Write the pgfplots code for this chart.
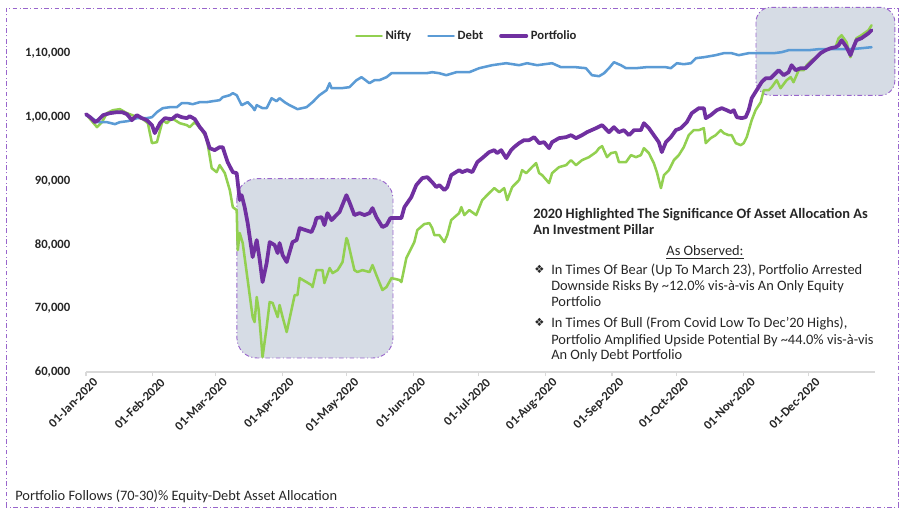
\documentclass[border=0pt]{standalone}
\usepackage{fontspec}
\setmainfont{Carlito}
\newfontfamily\symfont{DejaVu Sans}
\usepackage{pgfplots}
\pgfplotsset{compat=1.18}

\definecolor{nifty}{HTML}{92D050}
\definecolor{debt}{HTML}{5B9BD5}
\definecolor{port}{HTML}{7030A0}
\definecolor{boxfill}{HTML}{D6DCE5}
\definecolor{framec}{HTML}{9966CC}
\definecolor{txt}{HTML}{262626}
\definecolor{axisgray}{HTML}{D9D9D9}

\tikzset{dd/.style={dash pattern=on 3.5pt off 1.8pt on 0.8pt off 1.8pt}}
\newcommand{\lbl}{\fontsize{9.5}{11}\selectfont\bfseries}
\newcommand{\txtf}{\fontsize{10.8}{12}\selectfont}

\begin{document}
\begin{tikzpicture}
\begin{scope}[x=0.75pt,y=0.75pt]
  \useasboundingbox (0,0) rectangle (909,514);
  \draw[framec, line width=0.7pt, dd] (6,7) rectangle (898,506);
\end{scope}

\begin{axis}[
    at={(64.5pt,106.5pt)}, anchor=south west,
    scale only axis,
    width=591.75pt, height=262.9pt,
    xmin=0, xmax=366,
    ymin=60000, ymax=115000,
    scaled y ticks=false,
    clip=false,
    axis x line*=bottom,
    axis y line*=left,
    x axis line style={-, draw=axisgray, line width=1pt},
    y axis line style={draw=none},
    tick align=outside,
    major tick length=3pt,
    xtick style={draw=axisgray, line width=0.8pt},
    ytick style={draw=none},
    xtick={0,31,60,91,121,152,182,213,244,274,305,335},
    xticklabels={01-Jan-2020,01-Feb-2020,01-Mar-2020,01-Apr-2020,01-May-2020,01-Jun-2020,01-Jul-2020,01-Aug-2020,01-Sep-2020,01-Oct-2020,01-Nov-2020,01-Dec-2020},
    xticklabel style={font=\lbl, text=txt, rotate=45, anchor=north east, inner sep=0pt, xshift=3pt, yshift=-4pt},
    ytick={60000,70000,80000,90000,100000,110000},
    yticklabels={{60,000},{70,000},{80,000},{90,000},{1,00,000},{1,10,000}},
    yticklabel style={font=\lbl, text=txt, anchor=east, inner sep=0pt, xshift=-8.6pt},
    legend columns=3,
    legend style={at={(0.483,0.9586)}, anchor=center, draw=none, fill=none,
      font=\lbl, text=txt, inner sep=0pt,
      /tikz/every even column/.append style={column sep=10pt}},
    legend image code/.code={\draw[#1] (0pt,0pt) -- (19pt,0pt);},
    every axis plot/.append style={line join=round, line cap=round},
  ]

  % highlighted periods
  \fill[boxfill, rounded corners=15pt] (axis cs:70,90340) rectangle (axis cs:142.4,62200);
  \draw[framec, line width=0.7pt, dd, rounded corners=15pt] (axis cs:70,90340) rectangle (axis cs:142.4,62200);
  \fill[boxfill, rounded corners=11pt] (axis cs:310.8,117220) rectangle (axis cs:375.2,103390);
  \draw[framec, line width=0.7pt, dd, rounded corners=11pt] (axis cs:310.8,117220) rectangle (axis cs:375.2,103390);

  \addplot[nifty, line width=1.9pt] coordinates {
    (0,100450)(5.1,98420)(7.4,99200)(9.7,100610)(12.5,101080)(15.7,101240)(19.0,100610)
    (22.7,100140)(26.4,99670)(28.7,99040)(30.6,95910)(32.9,96060)(35.6,99510)(37.5,99040)
    (39.8,99830)(43.5,99040)(46.8,98730)(48.1,98420)(50.5,99200)(53.7,97950)(56.0,96690)
    (58.3,91990)(60.6,91360)(62.0,92460)(64.4,91200)(66.7,88540)(68.1,85870)(69.9,85400)
    (70.4,79130)(71.3,81800)(72.7,80230)(75.0,74430)(77.3,68620)(78.2,67840)(79.2,71760)
    (80.1,69720)(81.9,62350)(83.8,67060)(85.2,70980)(86.6,70820)(88.9,68620)(89.8,70510)
    (91.2,68620)(93.1,66270)(96.8,72070)(98.1,72070)(99.1,74740)(104.6,73640)(105.1,73330)
    (106.9,75990)(109.7,75990)(110.6,73960)(113.0,76310)(114.4,75520)(116.7,75990)(117.6,76460)
    (119.0,77250)(120.8,81010)(121.3,80700)(124.5,75990)(125.9,75680)(128.2,75990)(131.5,75680)
    (132.9,76780)(134.7,75210)(137.5,72860)(139.4,73330)(141.7,74740)(145.4,74430)(146.3,74110)
    (148.6,77880)(152.3,80380)(153.7,82270)(156.9,83210)(159.3,83360)(160.6,82580)(161.6,81480)
    (163.9,81480)(166.2,80380)(167.6,81480)(169.4,83830)(173.1,84930)(174.1,85870)(175.5,84620)
    (177.8,85400)(181.0,84620)(183.8,86970)(187.0,88070)(189.4,88850)(191.7,88220)(194.0,88850)
    (195.4,86970)(197.7,89010)(200.9,90110)(202.3,91670)(204.2,91200)(206.9,92140)(208.8,92770)
    (210.2,91200)(211.6,90890)(214.8,89640)(216.2,91200)(219.4,92140)(222.7,92460)(225.0,93240)
    (227.3,92460)(230.1,93240)(233.3,93710)(236.6,94500)(238.0,95120)(239.4,95440)(241.7,93710)
    (243.5,94340)(245.8,94500)(247.2,92930)(250.5,92930)(252.8,94030)(255.1,93710)(257.4,94030)
    (258.8,95120)(261.1,94340)(263.4,92770)(264.8,91360)(266.7,88850)(268.1,90890)(270.4,91670)
    (272.7,93240)(275.0,94030)(277.3,95280)(279.6,97160)(281.9,97950)(284.3,97950)(286.6,98260)
    (287.5,95910)(289.8,96690)(292.1,97160)(294.4,97950)(295.8,97480)(298.1,97160)(299.5,97160)
    (301.4,95910)(303.7,95590)(305.1,95910)(306.5,96850)(308.8,99510)(310.6,101080)(313.0,102340)
    (314.4,104220)(316.7,104220)(318.1,104690)(320.4,105790)(322.2,104530)(325.0,105790)(326.9,106260)
    (328.2,105470)(330.6,107350)(332.9,107350)(334.3,108140)(336.6,108920)(338.9,109390)(341.2,110020)
    (343.1,110490)(345.4,110800)(347.7,110960)(349.1,112370)(350.5,112840)(352.8,111740)(354.6,109390)
    (356.0,110960)(357.4,112370)(359.7,112840)(363.0,113630)(364.4,114410)
  };
  \addlegendentry{Nifty}

  \addplot[debt, line width=1.9pt] coordinates {
    (0,100300)(2.8,99830)(5.6,99200)(9.7,99200)(13.4,98890)(15.7,99200)(19.4,99360)(23.6,99830)
    (28.2,99830)(30.6,99980)(32.9,100770)(35.6,101400)(38.9,101550)(42.1,101550)(44.4,102180)
    (47.2,102180)(49.5,102020)(52.8,102340)(56.0,102340)(58.8,102490)(62.0,102650)(63.4,103120)
    (66.7,103430)(68.1,103750)(69.9,103430)(72.2,101870)(75.0,102340)(77.3,101550)(78.2,101080)
    (79.2,101870)(81.9,101400)(83.8,101400)(86.1,102960)(88.4,102490)(89.8,102960)(92.1,102340)
    (94.4,101870)(98.1,101240)(102.3,101550)(105.1,102340)(108.3,103430)(111.6,104220)(113.0,105320)
    (113.9,104530)(118.5,104530)(122.2,104690)(125.5,105790)(127.8,106260)(131.5,105320)(133.8,105790)
    (136.1,105790)(139.4,106260)(141.7,106880)(145.4,106880)(151.4,106880)(157.9,106880)(160.6,107040)
    (163.9,106880)(167.1,106570)(171.8,107040)(177.8,107040)(182.4,107670)(188.4,108140)(194.9,108450)
    (200.9,108140)(204.6,108450)(209.3,108140)(216.2,108450)(220.4,107820)(227.3,107820)(231.9,107670)
    (234.7,106570)(238.0,106410)(240.3,106880)(242.6,107670)(244.9,108610)(248.1,108140)(250.5,107670)
    (255.1,107670)(259.7,107820)(264.4,107820)(269.0,107820)(271.3,107670)(274.1,108450)(277.3,108290)
    (280.6,108450)(282.9,109240)(286.6,109390)(292.1,109710)(295.8,110020)(299.5,110020)(302.8,109710)
    (307.4,110020)(313.4,110020)(319.0,110020)(322.7,110180)(325.9,110490)(330.6,110490)(335.2,110490)
    (339.8,110650)(347.7,110650)(355.1,110650)(359.7,110800)(364.4,110960)
  };
  \addlegendentry{Debt}

  \addplot[port, line width=2.8pt] coordinates {
    (0,100450)(1.9,99980)(4.2,99200)(5.6,99510)(7.9,100300)(11.1,100610)(14.4,100770)(16.7,100770)
    (19.0,100450)(21.3,99510)(23.6,100300)(25.9,99830)(28.2,99510)(30.6,98730)(31.9,97480)(34.3,99040)
    (36.6,99830)(39.8,99670)(42.1,100300)(44.4,99980)(46.8,99830)(48.1,100140)(50.5,99670)(52.8,98420)
    (55.1,97480)(57.4,95120)(59.7,94810)(62.0,95280)(63.4,95280)(65.7,92930)(68.1,91360)(69.9,91200)
    (71.3,86970)(72.2,87750)(73.6,85870)(75.0,83360)(77.3,78030)(79.2,80700)(80.6,77560)(81.9,74110)
    (83.8,77090)(85.2,80380)(87.5,79910)(88.9,78660)(89.8,80230)(91.2,78350)(93.1,77250)(95.8,80380)
    (97.7,80700)(99.1,82580)(104.6,81950)(106.0,83050)(106.9,84150)(109.3,84300)(110.6,83050)(112.0,84930)
    (113.9,83830)(116.2,84620)(117.6,85090)(120.8,87750)(122.2,86660)(124.5,84620)(126.9,84930)(129.2,84620)
    (131.5,84930)(132.9,85720)(134.7,84300)(137.5,82740)(139.4,83050)(141.2,84150)(143.1,84150)(146.3,84150)
    (147.7,85870)(150.9,87440)(153.2,89320)(156.0,90420)(158.3,90580)(160.6,89790)(162.5,89010)(163.9,89320)
    (166.2,88540)(167.6,89010)(169.4,90890)(173.1,91670)(174.5,91360)(176.9,91670)(179.2,91360)(181.5,92930)
    (183.8,93560)(187.0,94500)(189.4,94810)(190.7,94340)(192.6,94810)(194.9,93560)(197.2,94810)(198.6,95280)
    (200.9,95910)(203.2,96380)(205.6,96380)(207.9,96850)(210.2,95910)(212.5,96060)(214.8,95120)(216.2,96060)
    (219.4,96690)(222.7,96850)(225.0,97160)(227.3,96690)(230.1,97160)(232.4,97630)(236.6,98260)(239.4,98730)
    (242.6,97630)(244.9,98420)(247.2,97630)(249.5,97950)(251.9,97160)(254.2,97950)(257.4,97950)(258.8,99040)
    (261.1,98260)(263.4,97160)(265.7,96060)(267.1,94500)(269.0,96060)(271.3,96850)(273.6,97950)(275.9,98260)
    (278.7,99200)(281.0,100610)(284.3,101400)(286.6,101400)(287.5,99830)(289.8,100300)(292.6,101080)(294.9,101400)
    (297.2,101080)(299.1,100770)(300.5,101080)(301.9,99980)(304.2,99830)(306.0,99980)(307.4,101080)(308.8,102960)
    (311.1,104220)(313.4,105470)(315.3,106100)(317.6,106100)(319.0,106570)(321.3,107350)(323.6,106570)(325.9,107040)
    (327.3,108140)(329.2,107350)(331.5,107670)(333.8,107670)(336.1,108450)(338.4,109240)(340.7,110020)(343.1,110490)
    (345.4,110800)(347.7,110960)(349.1,111270)(350.5,112060)(352.8,110960)(354.6,109710)(356.0,110960)(357.4,112060)
    (359.7,112370)(363.0,113150)(364.4,113630)
  };
  \addlegendentry{Portfolio}
\end{axis}

\begin{scope}[x=0.75pt,y=0.75pt, every node/.style={inner sep=0pt, text=txt}]
  \node[anchor=base west, font=\txtf\bfseries] at (533,295) {2020 Highlighted The Significance Of Asset Allocation As};
  \node[anchor=base west, font=\txtf\bfseries] at (533,279) {An Investment Pillar};
  \node[anchor=base, font=\txtf] at (705,258) {\underline{As Observed:}};
  \node[anchor=base west, font=\symfont\fontsize{8.5}{9}\selectfont] at (534,240) {❖};
  \node[anchor=base west, font=\txtf] at (551,239) {In Times Of Bear (Up To March 23), Portfolio Arrested};
  \node[anchor=base west, font=\txtf] at (551,223) {Downside Risks By \textasciitilde12.0\% vis-à-vis An Only Equity};
  \node[anchor=base west, font=\txtf] at (551,207) {Portfolio};
  \node[anchor=base west, font=\symfont\fontsize{8.5}{9}\selectfont] at (534,187) {❖};
  \node[anchor=base west, font=\txtf] at (551,186) {In Times Of Bull (From Covid Low To Dec’20 Highs),};
  \node[anchor=base west, font=\txtf] at (551,170) {Portfolio Amplified Upside Potential By \textasciitilde44.0\% vis-à-vis};
  \node[anchor=base west, font=\txtf] at (551,154) {An Only Debt Portfolio};
  \node[anchor=base west, font=\txtf] at (15,14) {Portfolio Follows (70-30)\% Equity-Debt Asset Allocation};
\end{scope}
\end{tikzpicture}
\end{document}
